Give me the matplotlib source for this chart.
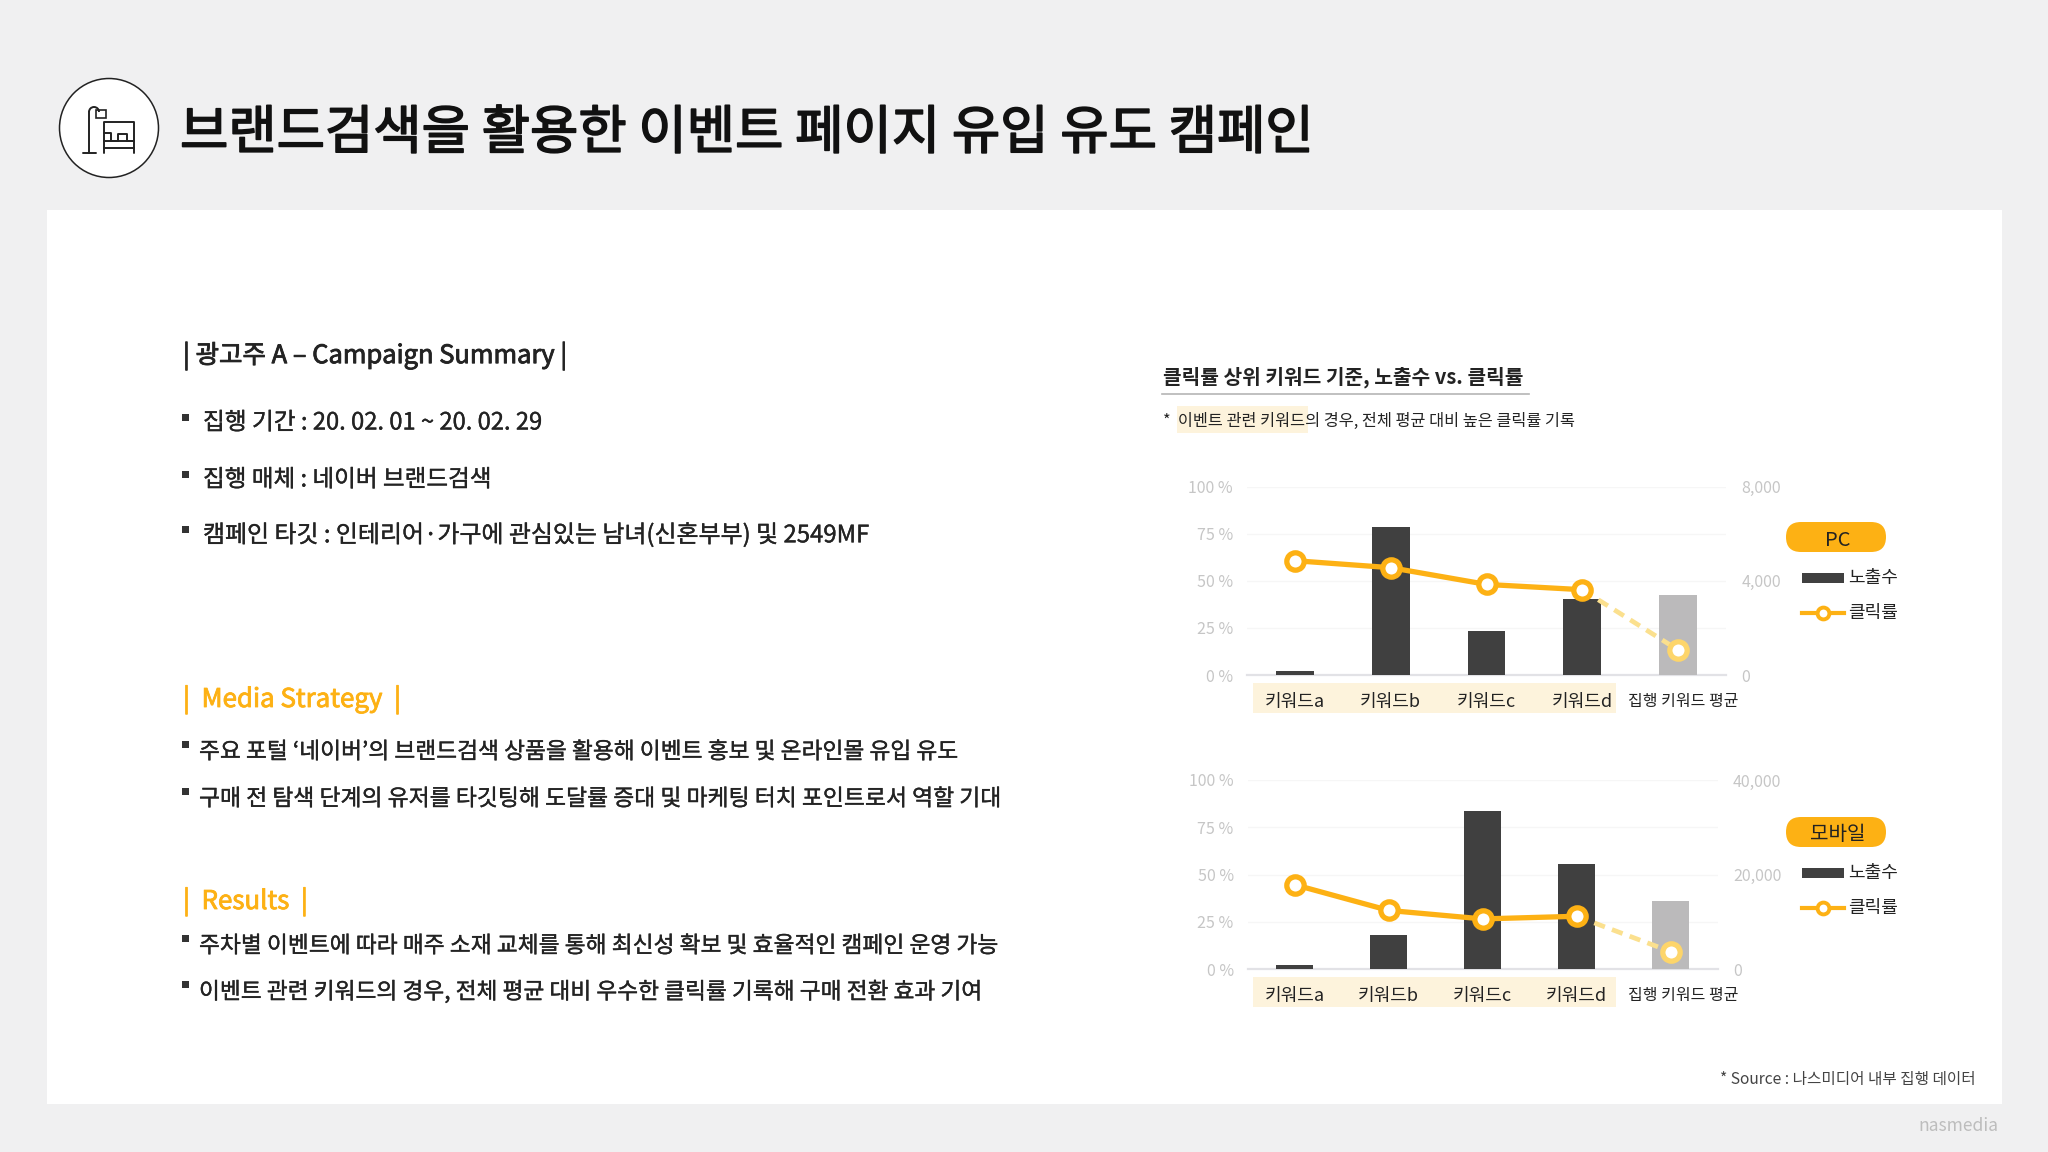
import matplotlib
matplotlib.use('Agg')
import matplotlib.pyplot as plt
import matplotlib.patheffects as pe
from matplotlib.patches import Rectangle, FancyBboxPatch, Circle, Arc
from matplotlib.transforms import ScaledTranslation

plt.rcParams['font.family'] = ['Noto Sans CJK KR', 'DejaVu Sans']

W, H = 2048, 1152
keywords = ['키워드a', '키워드b', '키워드c', '키워드d', '집행 키워드 평균']
pct_ticks = [0, 25, 50, 75, 100]
pct_labels = ['0 %', '25 %', '50 %', '75 %', '100 %']

pc_impressions = [170, 6290, 1870, 3230, 3400]
pc_ctr = [60.7, 57.0, 48.1, 45.3, 13.3]
pc_ticks = [0, 2000, 4000, 6000, 8000]
pc_tick_labels = ['0', '', '4,000', '', '8,000']

mobile_impressions = [780, 7270, 33370, 22220, 14320]
mobile_ctr = [44.6, 31.0, 26.5, 27.9, 9.2]
mobile_ticks = [0, 10000, 20000, 30000, 40000]
mobile_tick_labels = ['0', '', '20,000', '', '40,000']

BG, DARK, GRAY, ORANGE, PALE, HILITE, TXT = '#f0f0f1', '#404040', '#bbbabb', '#fdb114', '#fbe08e', '#fdf3dc', '#232323'

fig = plt.figure(figsize=(W / 100, H / 100), dpi=100, facecolor=BG)
bg = fig.add_axes([0, 0, 1, 1])
bg.set_xlim(0, W); bg.set_ylim(H, 0); bg.axis('off')
renderer = fig.canvas.get_renderer()


def fit(x0, x1, y, s, size=20, color=TXT, weight='regular', stroke=0.0):
    """Place text on the page, with the font size fitted to the width it spans."""
    t = bg.text(x0, y, s, fontsize=size, color=color, fontweight=weight, va='center', ha='left')
    w = t.get_window_extent(renderer).width
    t.set_fontsize(size * (x1 - x0) / w)
    if stroke:
        t.set_path_effects([pe.withStroke(linewidth=stroke, foreground=color)])
    return t


# page panel
bg.add_patch(Rectangle((47, 210), 1955, 894, fc='white', ec='none'))

# round icon
bg.add_patch(Circle((109, 128), 49.5, fc='white', ec='#222222', lw=1.1))
ic = dict(color='#222222', lw=1.4, solid_capstyle='round')
bg.plot([89, 89], [153, 112], **ic)
bg.plot([83, 96], [153, 153], **ic)
bg.add_patch(Arc((94, 112), 10, 10, theta1=180, theta2=360, ec='#222222', lw=1.4))
bg.add_patch(Rectangle((96, 110), 10, 8, fc='none', ec='#222222', lw=1.2))
bg.plot([104, 104, 134, 134], [153, 122, 122, 153], **ic)
bg.plot([104, 134], [141, 141], **ic)
bg.plot([104, 134], [148, 148], **ic)
bg.plot([104, 111, 111, 118, 118, 127, 127, 134], [133, 133, 141, 141, 134, 134, 141, 141], **ic)

# heading
fit(180, 1314, 134, '브랜드검색을 활용한 이벤트 페이지 유입 유도 캠페인', size=36, color='#111111', stroke=1.2)

# left column
fit(183, 567, 356, '| 광고주 A – Campaign Summary |', stroke=0.6)
summary = [(203, 542, 423, '집행 기간 : 20. 02. 01 ~ 20. 02. 29'),
           (203, 491, 480, '집행 매체 : 네이버 브랜드검색'),
           (203, 868, 535, '캠페인 타깃 : 인테리어·가구에 관심있는 남녀(신혼부부) 및 2549MF')]
for x0, x1, y, s in summary:
    fit(x0, x1, y, s, stroke=0.25)
    bg.add_patch(Rectangle((182, y - 9), 7, 7, fc='#333333', ec='none'))

fit(183, 401, 700, '|  Media Strategy  |', color=ORANGE, stroke=0.6)
strategy = [(199, 957, 752, "주요 포털 ‘네이버’의 브랜드검색 상품을 활용해 이벤트 홍보 및 온라인몰 유입 유도"),
            (199, 1000, 799, '구매 전 탐색 단계의 유저를 타깃팅해 도달률 증대 및 마케팅 터치 포인트로서 역할 기대')]
fit(183, 308, 902, '|  Results  |', color=ORANGE, stroke=0.6)
results = [(199, 997, 946, '주차별 이벤트에 따라 매주 소재 교체를 통해 최신성 확보 및 효율적인 캠페인 운영 가능'),
           (199, 981, 992, '이벤트 관련 키워드의 경우, 전체 평균 대비 우수한 클릭률 기록해 구매 전환 효과 기여')]
for x0, x1, y, s in strategy + results:
    fit(x0, x1, y, s, stroke=0.25)
    bg.add_patch(Rectangle((182, y - 11), 7, 7, fc='#333333', ec='none'))

# right column heading
fit(1163, 1523, 377, '클릭률 상위 키워드 기준, 노출수 vs. 클릭률', weight='bold')
bg.plot([1162, 1529], [394, 394], color='#b5b5b5', lw=1.2)
bg.add_patch(Rectangle((1177, 406), 131, 27, fc=HILITE, ec='none'))
fit(1163, 1575, 421, '*  이벤트 관련 키워드의 경우, 전체 평균 대비 높은 클릭률 기록')

fit(1720, 1976, 1079, '* Source : 나스미디어 내부 집행 데이터', color='#444444')
fit(1918, 1998, 1126, 'nasmedia', color='#bdbdbd')


def chart(left, right, top, bottom, bars, ctr, ticks, tick_labels, label_shift, name, name_y):
    bg.add_patch(Rectangle((1253, bottom + 8), 363, 30, fc=HILITE, ec='none'))
    ax = fig.add_axes([left / W, 1 - bottom / H, (right - left) / W, (bottom - top) / H])
    ax.set_facecolor('none')
    xs = list(range(len(keywords)))
    ax.bar(xs[:4], bars[:4], width=0.395, color=DARK, zorder=3)
    ax.bar(xs[4:], bars[4:], width=0.395, color=GRAY, zorder=3)
    ax.set_xlim(-0.5, 4.5)
    ax.set_ylim(ticks[0], ticks[-1])
    ax.set_yticks(ticks, tick_labels, color='#c6c6c6', fontsize=11.5)
    ax.set_xticks(xs, keywords, color=TXT, fontsize=13)
    ax.tick_params(axis='both', length=0)
    ax.tick_params(axis='x', pad=13)
    ax.grid(axis='y', color='#f6f6f6', lw=1, zorder=0)
    for sp in ('top', 'left', 'right'):
        ax.spines[sp].set_visible(False)
    ax.spines['bottom'].set_color('#e2e2e6')
    ax.spines['bottom'].set_linewidth(1.6)

    lx = ax.twinx()
    lx.set_facecolor('none')
    lx.set_ylim(0, 100)
    lx.set_yticks(pct_ticks, pct_labels, color='#c6c6c6', fontsize=11.5)
    lx.yaxis.tick_left()
    lx.tick_params(axis='y', length=0, pad=10)
    ax.yaxis.tick_right()
    ax.tick_params(axis='y', length=0, pad=11)
    last = ax.get_xticklabels()[4]
    last.set_fontsize(11.5)
    last.set_transform(last.get_transform() + ScaledTranslation(label_shift / 100, 0, fig.dpi_scale_trans))
    for sp in lx.spines.values():
        sp.set_visible(False)
    lx.plot(xs[3:], ctr[3:], color=PALE, lw=3.4, dashes=(2.4, 1.6), zorder=3)
    lx.plot(xs[:4], ctr[:4], color=ORANGE, lw=3.8, marker='o', ms=12.5, mfc='white', mec=ORANGE, mew=3.8, zorder=4)
    lx.plot(xs[4:], ctr[4:], ls='none', marker='o', ms=12.5, mfc='white', mec='#fdd56a', mew=3.8, zorder=4)

    # panel name and legend
    bg.add_patch(FancyBboxPatch((1801, name_y), 70, 0, boxstyle='round,pad=15,rounding_size=15', fc=ORANGE, ec='none'))
    bg.text(1838, name_y + 3, name, fontsize=14.5, color='#222222', ha='center', va='center')
    bg.add_patch(Rectangle((1802, name_y + 36), 42, 10, fc=DARK, ec='none'))
    bg.text(1848, name_y + 41, '노출수', fontsize=13, color=TXT, va='center')
    bg.plot([1802, 1844], [name_y + 76, name_y + 76], color=ORANGE, lw=3)
    bg.plot([1823], [name_y + 76], marker='o', ms=8.5, mfc='white', mec=ORANGE, mew=2.8)
    bg.text(1848, name_y + 76, '클릭률', fontsize=13, color=TXT, va='center')


chart(1247, 1726, 486.7, 675, pc_impressions, pc_ctr, pc_ticks, pc_tick_labels, 5, 'PC', 537)
chart(1247.6, 1717.6, 780, 969, mobile_impressions, mobile_ctr, mobile_ticks, mobile_tick_labels, 13, '모바일', 832)

fig.savefig('out.png', dpi=100, facecolor=BG)
